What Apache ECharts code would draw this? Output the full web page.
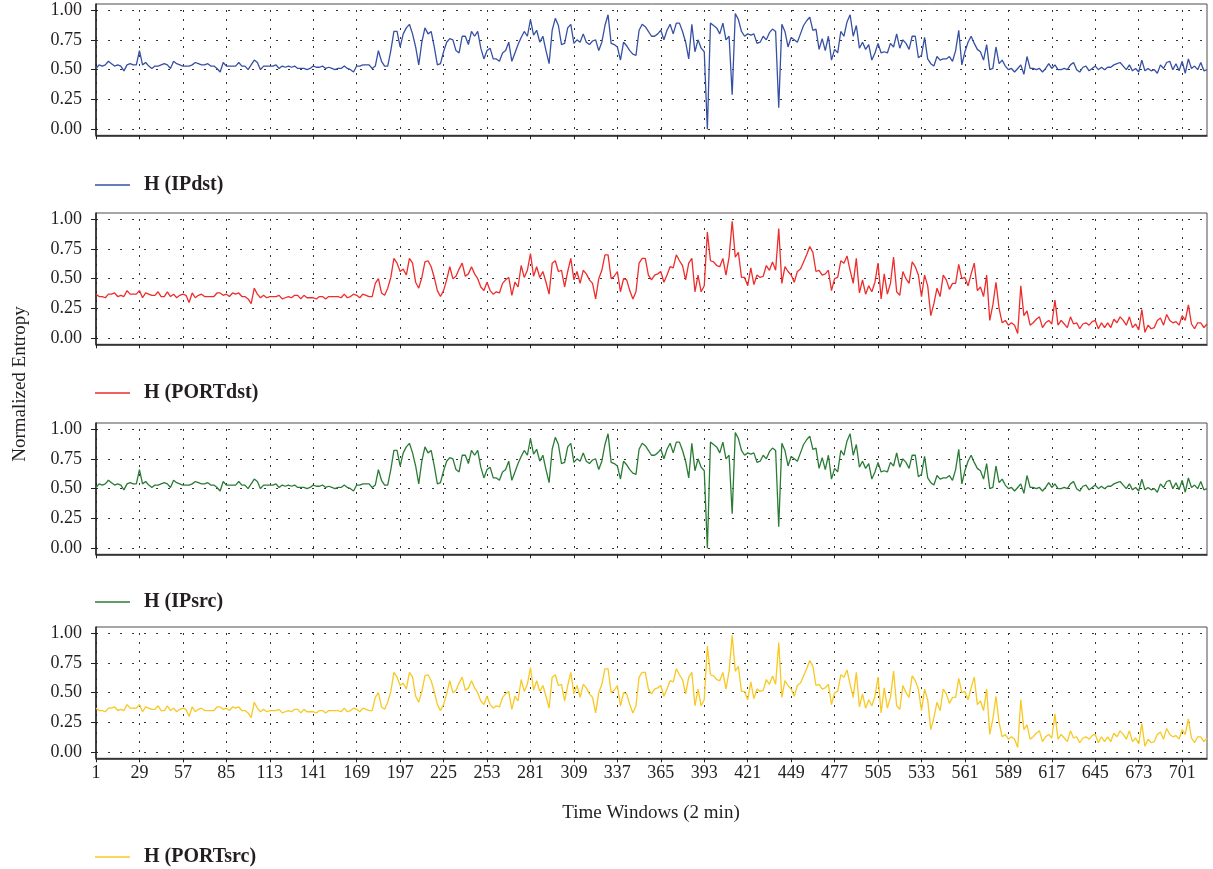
<!DOCTYPE html>
<html>
<head>
<meta charset="utf-8">
<script src="https://cdn.jsdelivr.net/npm/echarts@6/dist/echarts.min.js"></script>
<style>
  html, body { margin: 0; background: #fff; }
  #chart { width: 1213px; height: 869px; }
</style>
</head>
<body>
<div id="chart"></div>
<script>
// time windows (every second 2-min window is plotted)
const windows = [];
for (let w = 1; w <= 717; w += 2) windows.push(String(w));

// normalized entropy
const ipDst = [
  .51,.54,.53,.54,.57,.55,.53,.54,.53,.49, .54,.55,.54,.54,.66,.54,.56,.53,.51,.53,
  .53,.54,.55,.54,.51,.57,.55,.54,.53,.53, .53,.54,.56,.55,.54,.54,.55,.53,.53,.51,
  .48,.56,.53,.53,.53,.53,.56,.53,.53,.50, .54,.58,.56,.50,.53,.53,.53,.53,.54,.51,
  .53,.52,.53,.52,.53,.51,.51,.51,.50,.51, .53,.52,.52,.53,.51,.52,.51,.50,.51,.51,
  .53,.51,.50,.48,.53,.53,.54,.54,
  .54,.51,.53,.66,.57,.53,.53,.66,.82,.82, .69,.80,.85,.88,.80,.69,.54,.73,.85,.80,
  .82,.69,.54,.55,.65,.73,.76,.75,.66,.64, .78,.78,.71,.82,.78,.82,.68,.59,.66,.68,
  .59,.59,.57,.64,.66,.73,.57,.64,.71,.77, .82,.78,.92,.79,.83,.73,.78,.66,.55,.83,
  .93,.87,.71,.72,.85,.88,.72,.75,.73,.80, .73,.71,.74,.75,.66,.73,.87,.96,.72,.71,
  .69,.58,.73,.70,.66,.63,.62,.83,.88,.86, .82,.78,
  .78,.80,.83,.75,.83,.88,.80,.89,.89,.82, .73,.59,.88,.65,.75,.68,.65,.00,.89,.87,
  .85,.80,.89,.75,.78,.29,.97,.92,.82,.78, .80,.79,.80,.72,.73,.78,.75,.81,.84,.82,
  .18,.88,.82,.69,.77,.75,.73,.80,.87,.91, .94,.83,.84,.67,.76,.66,.78,.58,.67,.64,
  .82,.78,.90,.96,.78,.87,.68,.73,.67,.71, .58,.64,.72,.64,.65,.64,.72,.69,.80,.68,
  .75,.72,.67,.78,.78,.60,.62,.77,.59,.55,
  .53,.61,.58,.59,.59,.61,.57,.66,.83,.54, .65,.73,.78,.72,.67,.65,.58,.71,.50,.51,
  .69,.55,.58,.53,.50,.51,.48,.51,.54,.46, .61,.51,.51,.50,.51,.48,.51,.55,.51,.54,
  .50,.50,.51,.50,.54,.56,.50,.48,.52,.53, .49,.51,.53,.50,.52,.50,.52,.52,.54,.55,
  .56,.53,.50,.54,.49,.51,.48,.58,.49,.51, .49,.50,.47,.54,.51,.56,.57,.50,.55,.49,
  .57,.47,.59,.51,.53,.50,.56,.49,.50
];

const portDst = [
  .37,.35,.35,.34,.37,.37,.38,.35,.36,.35, .40,.37,.37,.37,.40,.34,.38,.37,.36,.36,
  .39,.35,.35,.39,.35,.37,.34,.36,.37,.36, .30,.38,.34,.36,.37,.35,.35,.35,.35,.38,
  .38,.36,.37,.35,.38,.37,.38,.35,.35,.33, .29,.42,.37,.34,.36,.34,.35,.35,.35,.36,
  .33,.34,.35,.34,.36,.36,.33,.36,.34,.34, .34,.33,.35,.35,.33,.35,.35,.35,.35,.34,
  .37,.34,.35,.37,.36,.34,.37,.36,
  .35,.35,.46,.50,.38,.36,.42,.51,.67,.63, .56,.58,.53,.67,.63,.47,.42,.51,.64,.65,
  .60,.51,.40,.35,.40,.49,.60,.50,.52,.58, .63,.52,.54,.60,.54,.50,.43,.40,.47,.40,
  .37,.39,.38,.46,.49,.51,.36,.47,.43,.61, .51,.57,.71,.52,.60,.51,.56,.47,.37,.63,
  .65,.56,.57,.43,.56,.67,.49,.56,.46,.57, .54,.49,.46,.33,.50,.57,.70,.70,.50,.52,
  .56,.39,.50,.49,.40,.33,.39,.63,.67,.67, .53,.49,
  .53,.54,.56,.47,.53,.60,.59,.70,.65,.61, .49,.63,.67,.39,.53,.39,.44,.89,.65,.64,
  .61,.60,.67,.53,.68,.98,.68,.72,.51,.51, .44,.59,.45,.53,.51,.52,.61,.57,.64,.57,
  .92,.46,.60,.56,.53,.47,.56,.58,.64,.70, .77,.72,.56,.57,.53,.54,.57,.40,.50,.51,
  .65,.63,.69,.57,.46,.67,.38,.49,.37,.44, .39,.47,.63,.33,.54,.37,.46,.68,.39,.36,
  .56,.50,.46,.64,.60,.53,.35,.53,.44,.19,
  .29,.42,.35,.53,.49,.41,.46,.46,.62,.50, .51,.44,.54,.63,.40,.43,.35,.53,.15,.28,
  .47,.25,.13,.15,.11,.13,.11,.04,.44,.19, .23,.11,.13,.16,.18,.09,.13,.15,.12,.32,
  .11,.15,.12,.09,.18,.12,.13,.08,.12,.13, .11,.14,.15,.08,.13,.09,.13,.09,.16,.13,
  .18,.15,.11,.18,.09,.12,.07,.24,.05,.11, .08,.09,.15,.17,.11,.20,.15,.13,.14,.11,
  .19,.15,.28,.12,.08,.13,.13,.09,.12
];

// the src panels trace the same readings as the dst panels in the picture
const ipSrc = ipDst.slice();
const portSrc = portDst.slice();

const seriesNames = ['H (IPdst)', 'H (PORTdst)', 'H (IPsrc)', 'H (PORTsrc)'];
const seriesColors = ['#3650a4', '#ee2c2c', '#2a7b36', '#f8c823'];
const seriesData = [ipDst, portDst, ipSrc, portSrc];

const FONT = "'Liberation Serif', 'Times New Roman', serif";
const INK = '#231f20';
const panelTop = [10, 219, 429, 633];   // y of 1.00 line
const panelH = 119.3;                    // 0..1 height
const legendY = [184, 392, 601, 856];

const grid = [], xAxis = [], yAxis = [], series = [], legend = [];

panelTop.forEach((top, p) => {
  // frame grid (slightly larger than the 0..1 range)
  grid.push({ left: 96, right: 6, top: top - 6, height: panelH + 12,
    show: true, borderColor: '#4d4d4d', borderWidth: 1 });
  // data grid
  grid.push({ left: 96, right: 6, top: top, height: panelH });

  xAxis.push({
    type: 'category', gridIndex: 2 * p, data: windows, boundaryGap: false,
    axisLine: { lineStyle: { color: INK, width: 1.5 } },
    axisTick: { show: true, interval: 13, length: 4, lineStyle: { color: INK } },
    axisLabel: { show: p === 3, interval: 13, margin: 6,
      fontFamily: FONT, fontSize: 18, color: INK },
    splitLine: { show: false }
  });
  xAxis.push({
    type: 'category', gridIndex: 2 * p + 1, data: windows, boundaryGap: false,
    axisLine: { show: false }, axisTick: { show: false }, axisLabel: { show: false },
    splitLine: { show: true, interval: 13, lineStyle: { color: '#333', width: 1, type: [2, 7] } }
  });

  yAxis.push({
    type: 'value', gridIndex: 2 * p, min: 0, max: 1,
    axisLine: { show: true, lineStyle: { color: INK, width: 1.5 } },
    axisTick: { show: false }, axisLabel: { show: false }, splitLine: { show: false }
  });
  yAxis.push({
    type: 'value', gridIndex: 2 * p + 1, min: 0, max: 1, interval: 0.25,
    axisLine: { show: false },
    axisTick: { show: true, length: 5, lineStyle: { color: INK } },
    axisLabel: { formatter: v => v.toFixed(2), margin: 14,
      fontFamily: FONT, fontSize: 18, color: INK },
    splitLine: { show: true, lineStyle: { color: '#333', width: 1, type: [2, 10] } }
  });

  series.push({
    type: 'line', name: seriesNames[p], xAxisIndex: 2 * p + 1, yAxisIndex: 2 * p + 1,
    data: seriesData[p], symbol: 'none', clip: false,
    lineStyle: { width: 1.3, color: seriesColors[p] },
    itemStyle: { color: seriesColors[p] }
  });

  legend.push({
    data: [seriesNames[p]], left: 95, top: legendY[p] - 9, padding: 0,
    icon: 'rect', itemWidth: 35, itemHeight: 1.3,
    textStyle: { fontFamily: FONT, fontWeight: 'bold', fontSize: 20, color: INK,
      padding: [0, 0, 0, 9] }
  });
});

const chart = echarts.init(document.getElementById('chart'));
chart.setOption({
  animation: false,
  backgroundColor: '#fff',
  grid, xAxis, yAxis, series, legend,
  graphic: [
    { type: 'text', x: 20, y: 384, rotation: Math.PI / 2,
      style: { text: 'Normalized Entropy', font: '19px ' + FONT, fill: INK,
        textAlign: 'center', textVerticalAlign: 'middle' } },
    { type: 'text', x: 651, y: 813,
      style: { text: 'Time Windows (2 min)', font: '19px ' + FONT, fill: INK,
        textAlign: 'center', textVerticalAlign: 'middle' } }
  ]
});
</script>
</body>
</html>
